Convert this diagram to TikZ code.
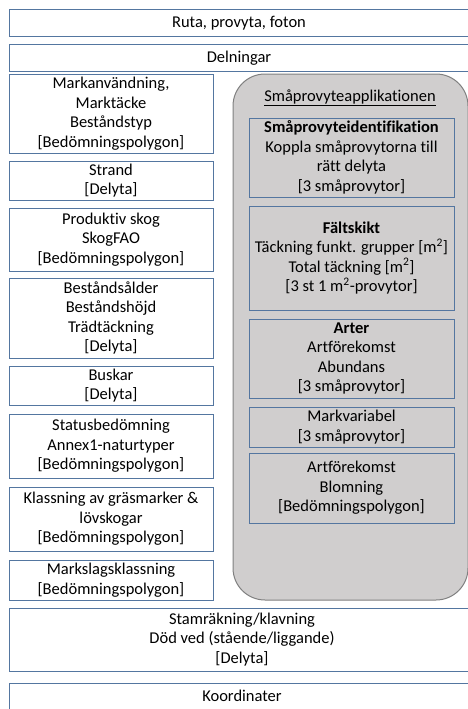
\documentclass[tikz,border=0pt]{standalone}
\usepackage{fontspec}
\setmainfont{Carlito}[Ligatures=NoCommon]
\definecolor{ramblue}{RGB}{84,118,160}
\definecolor{appgra}{RGB}{208,206,206}
\definecolor{kantgra}{RGB}{128,128,128}
\tikzset{
  ruta/.style={draw=ramblue, line width=1pt, fill=white, align=center, inner sep=0pt},
  smaruta/.style={ruta, fill=none},
}
\begin{document}
\begin{tikzpicture}[x=1pt, y=-1pt, font=\fontsize{16.5}{19.5}\selectfont]
  \clip (0,0) rectangle (468,709);
  \useasboundingbox (0,0) rectangle (468,709);
  \fill[white] (0,0) rectangle (468,709);
  % hela bredden, överst
  \node[ruta, minimum width=460pt, minimum height=26.5pt] (ruta) at (239,23.25) {Ruta, provyta, foton};
  \node[ruta, minimum width=460pt, minimum height=26pt] (delning) at (239,58) {Delningar};
  % vänster kolumn
  \node[ruta, minimum width=204pt, minimum height=79pt] (markanv) at (111,113.5)
    {Markanvändning,\\Marktäcke\\Beståndstyp\\{[}Bedömningspolygon]};
  \node[ruta, minimum width=204pt, minimum height=39pt] (strand) at (111,180.5)
    {Strand\\{[}Delyta]};
  \node[ruta, minimum width=204pt, minimum height=63pt] (prodskog) at (111,239.5)
    {Produktiv skog\\SkogFAO\\{[}Bedömningspolygon]};
  \node[ruta, minimum width=204pt, minimum height=80pt] (bestand) at (111,318)
    {Beståndsålder\\Beståndshöjd\\Trädtäckning\\{[}Delyta]};
  \node[ruta, minimum width=204pt, minimum height=39pt] (buskar) at (111,385.5)
    {Buskar\\{[}Delyta]};
  \node[ruta, minimum width=204pt, minimum height=64pt] (status) at (111,446)
    {Statusbedömning\\Annex1-naturtyper\\{[}Bedömningspolygon]};
  \node[ruta, minimum width=204pt, minimum height=64pt] (klassning) at (111,519)
    {Klassning av gräsmarker \&\\lövskogar\\{[}Bedömningspolygon]};
  \node[ruta, minimum width=204pt, minimum height=40pt] (markslag) at (111,580)
    {Markslagsklassning\\{[}Bedömningspolygon]};
  % småprovyteapplikationen (grå ruta)
  \node[draw=kantgra, fill=appgra, line width=1pt, rounded corners=32pt,
        minimum width=235pt, minimum height=526pt, inner sep=0pt] (app) at (350.5,337) {};
  \node (apptitel) at (350,98) {\underline{Småprovyteapplikationen}};
  \node[smaruta, minimum width=205pt, minimum height=79pt] (identif) at (351.5,157.5)
    {\textbf{Småprovyteidentifikation}\\Koppla småprovytorna till\\rätt delyta\\{[}3 småprovytor]};
  \node[smaruta, minimum width=205pt, minimum height=104pt] (faltskikt) at (351.5,258)
    {\textbf{Fältskikt}\\Täckning funkt. grupper [m\textsuperscript{2}]\\Total täckning [m\textsuperscript{2}]\\{[}3 st 1 m\textsuperscript{2}-provytor]};
  \node[smaruta, minimum width=205pt, minimum height=79pt] (arter) at (351.5,358.5)
    {\textbf{Arter}\\Artförekomst\\Abundans\\{[}3 småprovytor]};
  \node[smaruta, minimum width=205pt, minimum height=40pt] (markvar) at (351.5,427)
    {Markvariabel\\{[}3 småprovytor]};
  \node[smaruta, minimum width=205pt, minimum height=70pt] (blomning) at (351.5,488)
    {Artförekomst\\Blomning\\{[}Bedömningspolygon]};
  % hela bredden, nederst
  \node[ruta, minimum width=466pt, minimum height=63pt] (stam) at (242,639.5)
    {Stamräkning/klavning\\Död ved (stående/liggande)\\{[}Delyta]};
  \node[ruta, minimum width=466pt, minimum height=36pt] (koord) at (242,701)
    {\raisebox{5pt}[\height][\depth]{Koordinater}};
\end{tikzpicture}
\end{document}
